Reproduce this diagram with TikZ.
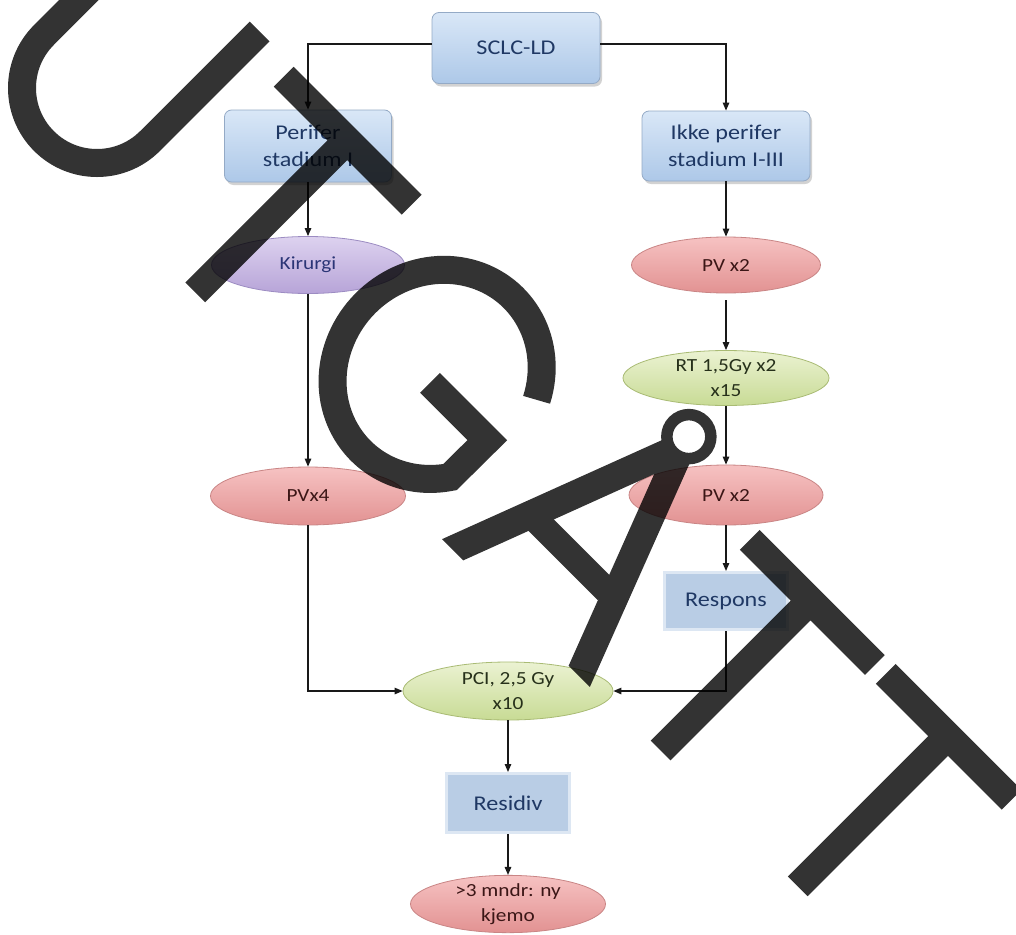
\documentclass[tikz,border=0pt]{standalone}
\usepackage{fontspec}
\setmainfont{Carlito}[FakeStretch=1.15]
\usetikzlibrary{arrows.meta,shapes.geometric,shadows}

\definecolor{boxtop}{HTML}{D9E7F7}
\definecolor{boxbot}{HTML}{ADC8E8}
\definecolor{boxline}{HTML}{94AAC6}
\definecolor{navy}{HTML}{1F3864}
\definecolor{flatbox}{HTML}{B9CDE5}
\definecolor{flatedge}{HTML}{DDE7F3}
\definecolor{pinktop}{HTML}{F6C2C2}
\definecolor{pinkbot}{HTML}{E29292}
\definecolor{pinkline}{HTML}{C98585}
\definecolor{pinktext}{HTML}{3B1616}
\definecolor{greentop}{HTML}{EBF2D2}
\definecolor{greenbot}{HTML}{C8DB95}
\definecolor{greenline}{HTML}{A9BB74}
\definecolor{greentext}{HTML}{26301A}
\definecolor{lilactop}{HTML}{DDD2EF}
\definecolor{lilacbot}{HTML}{B7A4D8}
\definecolor{lilacline}{HTML}{9C8CC2}
\definecolor{lilactext}{HTML}{2B3576}
\definecolor{stampink}{HTML}{000000}

\tikzset{
  x=1pt, y=-1pt,
  roundbox/.style={draw=boxline, line width=0.8pt, rounded corners=7pt,
    top color=boxtop, bottom color=boxbot, text=navy, align=center,
    inner sep=0pt, font=\fontsize{21}{27}\selectfont,
    drop shadow={shadow xshift=2pt, shadow yshift=-3pt, opacity=0.35}},
  flatbox/.style={draw=flatedge, line width=3pt, fill=flatbox, text=navy,
    align=center, inner sep=0pt, font=\fontsize{21}{27}\selectfont},
  oval/.style={ellipse, inner sep=0pt, line width=0.8pt, align=center,
    font=\fontsize{18.5}{24.5}\selectfont},
  pinkoval/.style={oval, draw=pinkline, top color=pinktop, bottom color=pinkbot, text=pinktext},
  greenoval/.style={oval, draw=greenline, top color=greentop, bottom color=greenbot, text=greentext},
  lilacoval/.style={oval, draw=lilacline, top color=lilactop, bottom color=lilacbot, text=lilactext},
  conn/.style={draw=black!90, line width=1.2pt, -{Triangle[length=8pt,width=6.5pt]}},
  stamp/.style={draw=stampink, line width=28pt}
}

\begin{document}
\begin{tikzpicture}
\useasboundingbox (0,0) rectangle (1016,934);
\fill[white] (0,0) rectangle (1016,934);

% boxes and ovals of the treatment chart
\node[roundbox, minimum width=168pt, minimum height=71pt] (sclc) at (516,48) {SCLC-LD};
\node[roundbox, minimum width=167pt, minimum height=72pt] (perif) at (308,146) {Perifer\\stadium I};
\node[roundbox, minimum width=168pt, minimum height=70pt] (ikke) at (726,146) {Ikke perifer\\stadium I-III};
\node[lilacoval, minimum width=193pt, minimum height=57pt] (kir) at (308,265) {Kirurgi};
\node[pinkoval, minimum width=189pt, minimum height=56pt] (pva) at (726,265) {PV x2};
\node[greenoval, minimum width=206pt, minimum height=55pt] (rt) at (726,378) {RT 1,5Gy x2\\x15};
\node[pinkoval, minimum width=194pt, minimum height=60pt] (pvb) at (726,495) {PV x2};
\node[pinkoval, minimum width=195pt, minimum height=58pt] (pv4) at (308,496) {PVx4};
\node[flatbox, minimum width=123pt, minimum height=57pt] (resp) at (726,601) {Respons};
\node[greenoval, minimum width=210pt, minimum height=58pt] (pci) at (508,691) {PCI, 2,5 Gy\\x10};
\node[flatbox, minimum width=123pt, minimum height=59pt] (resid) at (508,803) {Residiv};
\node[pinkoval, minimum width=195pt, minimum height=56pt] (kjemo) at (508,904) {>3 mndr: ny\\kjemo};

% connectors
\coordinate (top) at (0,44);
\draw[conn] (sclc.west |- top) -| (perif.north);
\draw[conn] (sclc.east |- top) -| (ikke.north);
\draw[conn] (perif.south) -- (kir.north);
\draw[conn] (ikke.south) -- (pva.north);
\draw[conn] (kir.south) -- (pv4.north);
\draw[conn, shorten <=7pt] (pva.south) -- (rt.north);
\draw[conn] (rt.south) -- (pvb.north);
\draw[conn] (pvb.south) -- (resp.north);
\draw[conn] (pv4.south) |- (pci.west);
\draw[conn] (resp.south) |- (pci.east);
\draw[conn] (pci.south) -- (resid.north);
\draw[conn] (resid.south) -- (kjemo.north);

% diagonal stamp lettering, drawn in a frame turned by 45 degrees
\begin{scope}[shift={(97,88)}, x={(0.70711pt,-0.70711pt)}, y={(0.70711pt,0.70711pt)},
              transparency group, opacity=0.8]
  % U
  \draw[stamp] (-75,155) -- (-75,0) arc[start angle=180, end angle=360, radius=75] -- (75,155);
  % T
  \draw[stamp] (124,140) -- (305,140) (214,140) -- (214,-75);
  % G
  \draw[stamp, line join=miter] (443,38) ++(29:101 and 108)
     arc[start angle=29, end angle=324, x radius=101, y radius=108] -- (525,27) -- (444,27);
  % A with ring
  \fill[stampink] (563,-75) -- (649.4,153) -- (684.7,153) -- (772,-75) -- (742,-75)
     -- (667,121) -- (593,-75) -- cycle;
  \fill[stampink] (618,-8) -- (716,-8) -- (716,18) -- (618,18) -- cycle;
  \draw[stampink, line width=11.5pt] (665,172) circle[radius=22];
  % T
  \draw[stamp] (781,142) -- (958,142) (867,142) -- (867,-70);
  % T
  \draw[stamp] (972,143.5) -- (1150,143.5) (1060,143.5) -- (1060,-69);
\end{scope}
\end{tikzpicture}
\end{document}
